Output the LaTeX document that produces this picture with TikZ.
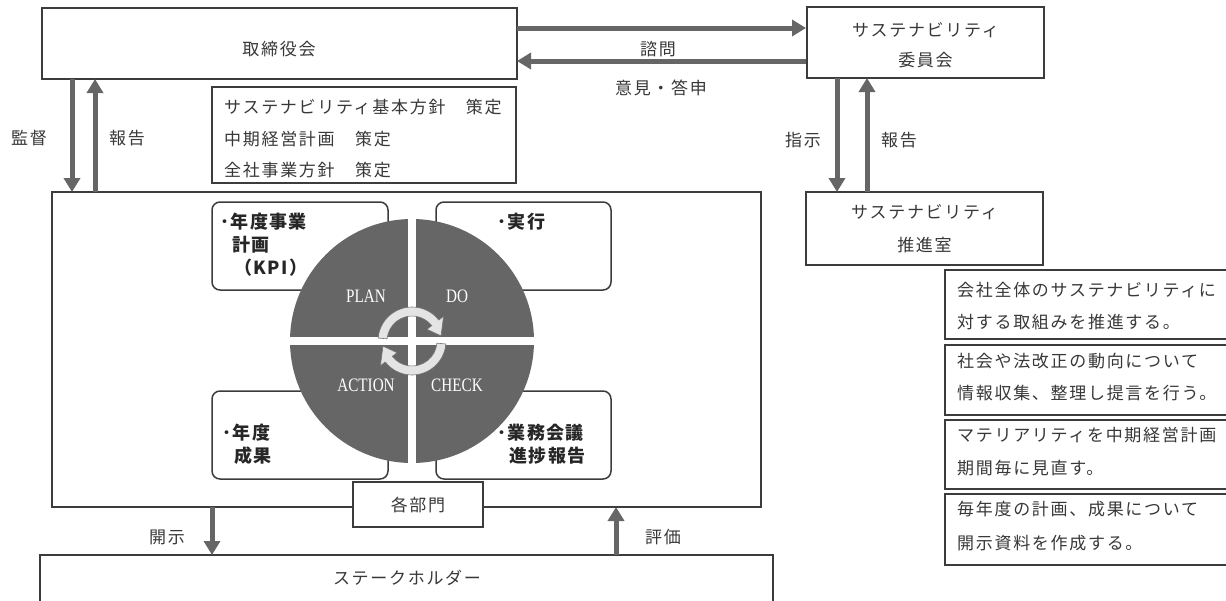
\documentclass[tikz,border=0pt]{standalone}
\usepackage{fontspec}
\setmainfont{Noto Sans CJK JP}[LetterSpace=10]
\newfontfamily\jpb{Noto Sans CJK JP}[LetterSpace=8]
\newfontfamily\lat{Liberation Serif}[FakeStretch=0.8]
\usetikzlibrary{arrows.meta}
\definecolor{ln}{HTML}{3C3C3C}
\definecolor{ar}{HTML}{666666}
\definecolor{tx}{HTML}{383838}
\definecolor{cyc}{HTML}{E4E4E4}
\tikzset{
  box/.style={draw=ln, line width=1.5pt, fill=white, inner sep=0pt},
  rbox/.style={box, rounded corners=8pt},
  lbl/.style={inner sep=0pt, text=tx, font=\fontsize{17}{20}\selectfont},
  bl/.style={inner sep=0pt, text=black!85, font=\jpb\bfseries\fontsize{18}{20}\selectfont},
  pd/.style={inner sep=0pt, text=white, font=\lat\fontsize{19}{21}\selectfont},
  arr/.style={draw=ar, line width=5pt, -{Triangle[length=14pt,width=16pt]}},
  cycarr/.style={fill=cyc, draw=black!55, line width=0.6pt},
}
\begin{document}
\begin{tikzpicture}[x=1pt,y=-1pt]
\useasboundingbox (0,0) rectangle (1226,600);
\fill[white] (0,0) rectangle (1226,600);

% top-level boxes
\node[box, minimum width=475pt, minimum height=71pt] (board) at (279.5,43.5) {};
\node[lbl] (boardt) at (279,49) {取締役会};
\node[box, minimum width=237pt, minimum height=71pt] (comm) at (925.5,42.5) {};
\node[lbl] (comm1) at (925.5,30) {サステナビリティ};
\node[lbl] (comm2) at (925.5,60) {委員会};
\node[box, minimum width=237pt, minimum height=73pt] (office) at (924.5,228.5) {};
\node[lbl] (off1) at (924.5,212) {サステナビリティ};
\node[lbl] (off2) at (924.5,245) {推進室};

% policy box
\node[box, minimum width=304pt, minimum height=96pt] (policy) at (364,135) {};
\node[lbl, anchor=west] (pol1) at (224,107) {サステナビリティ基本方針　策定};
\node[lbl, anchor=west] (pol2) at (224,139) {中期経営計画　策定};
\node[lbl, anchor=west] (pol3) at (224,170) {全社事業方針　策定};

% right boxes
\node[box, minimum width=285pt, minimum height=69pt] (r1) at (1087.5,304.5) {};
\node[box, minimum width=285pt, minimum height=70pt] (r2) at (1087.5,380) {};
\node[box, minimum width=285pt, minimum height=69pt] (r3) at (1087.5,454.5) {};
\node[box, minimum width=285pt, minimum height=71pt] (r4) at (1087.5,529.5) {};
\node[lbl, anchor=west] (r1a) at (957,290) {会社全体のサステナビリティに};
\node[lbl, anchor=west] (r1b) at (957,322) {対する取組みを推進する。};
\node[lbl, anchor=west] (r2a) at (957,361) {社会や法改正の動向について};
\node[lbl, anchor=west] (r2b) at (957,393) {情報収集、整理し提言を行う。};
\node[lbl, anchor=west] (r3a) at (957,435) {マテリアリティを中期経営計画};
\node[lbl, anchor=west] (r3b) at (957,468) {期間毎に見直す。};
\node[lbl, anchor=west] (r4a) at (957,509) {毎年度の計画、成果について};
\node[lbl, anchor=west] (r4b) at (957,543) {開示資料を作成する。};

% main box
\node[box, minimum width=709pt, minimum height=315pt] (main) at (406.5,349.5) {};

% rounded boxes
\node[rbox, minimum width=176pt, minimum height=88pt] (plan) at (300,246) {};
\node[rbox, minimum width=175pt, minimum height=88pt] (do) at (523.5,246) {};
\node[rbox, minimum width=176pt, minimum height=88pt] (act) at (300,435) {};
\node[rbox, minimum width=175pt, minimum height=88pt] (chk) at (523.5,435) {};

% circle
\coordinate (c) at (412,341);
\fill[ar] (c) circle[radius=122];
\draw[white, line width=8pt] (288,341) -- (536,341);
\draw[white, line width=8pt] (412,217) -- (412,465);

% cycle arrows
\draw[cycarr] ([shift={(412,341)}]185:34) arc[start angle=185,end angle=322,radius=34]
  -- ([shift={(412,341)}]322:40) -- ([shift={(412,341)}]350:29.5)
  -- ([shift={(412,341)}]322:19) -- ([shift={(412,341)}]322:25)
  arc[start angle=322,end angle=185,radius=25] -- cycle;
\draw[cycarr] ([shift={(412,341)}]5:34) arc[start angle=5,end angle=142,radius=34]
  -- ([shift={(412,341)}]142:40) -- ([shift={(412,341)}]170:29.5)
  -- ([shift={(412,341)}]142:19) -- ([shift={(412,341)}]142:25)
  arc[start angle=142,end angle=5,radius=25] -- cycle;

\node[pd] (tplan) at (366,296) {PLAN};
\node[pd] (tdo) at (457,296) {DO};
\node[pd] (tact) at (366,385) {ACTION};
\node[pd] (tchk) at (457,385) {CHECK};

% rounded-box texts
\node[bl, anchor=west] (p1) at (220,222) {･年度事業};
\node[bl, anchor=west] (p2) at (232,245) {計画};
\node[bl, anchor=west] (p3) at (234,268) {（KPI）};
\node[bl, anchor=west] (d1) at (497,222) {･実行};
\node[bl, anchor=west] (a1) at (222,433) {･年度};
\node[bl, anchor=west] (a2) at (234,456) {成果};
\node[bl, anchor=west] (k1) at (497,433) {･業務会議};
\node[bl, anchor=west] (k2) at (509,456) {進捗報告};

% departments
\node[box, minimum width=130pt, minimum height=45pt] (dept) at (418,504.5) {};
\node[lbl] (deptt) at (418,505) {各部門};

% stakeholders
\draw[ln, line width=1.5pt] (40,602) -- (40,555) -- (773,555) -- (773,602);
\coordinate (sh) at (406.5,555);
\node[lbl] (sht) at (407,578) {ステークホルダー};

% connector anchors
\coordinate (bA) at (72,79);   \coordinate (mA) at (72,192);
\coordinate (bB) at (95,79);   \coordinate (mB) at (95,192);
\coordinate (cA) at (837,78);  \coordinate (oA) at (837,192);
\coordinate (cB) at (867,78);  \coordinate (oB) at (867,192);
\coordinate (bR1) at (517,28);  \coordinate (cL1) at (806,28);
\coordinate (bR2) at (517,61);  \coordinate (cL2) at (806,61);
\coordinate (mD) at (212,507);  \coordinate (sD) at (212,555);
\coordinate (mE) at (616,507);  \coordinate (sE) at (616,555);

\draw[arr] (bA) -- (mA);
\draw[arr] (mB) -- (bB);
\draw[arr] (cA) -- (oA);
\draw[arr] (oB) -- (cB);
\draw[arr] (bR1) -- (cL1);
\draw[arr] (cL2) -- (bR2);
\draw[arr] (mD) -- (sD);
\draw[arr] (sE) -- (mE);

% arrow labels
\node[lbl] (l1) at (658,49) {諮問};
\node[lbl] (l2) at (661,88) {意見・答申};
\node[lbl] (l3) at (29,138) {監督};
\node[lbl] (l4) at (127,138) {報告};
\node[lbl] (l5) at (803,140) {指示};
\node[lbl] (l6) at (899,140) {報告};
\node[lbl] (l7) at (167,537) {開示};
\node[lbl] (l8) at (663,537) {評価};
\end{tikzpicture}
\end{document}
